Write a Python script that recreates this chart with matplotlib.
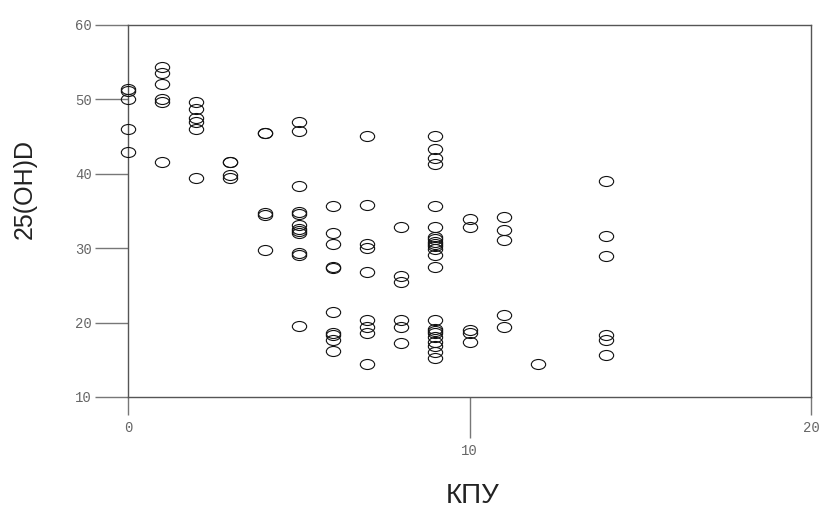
import matplotlib
matplotlib.use("Agg")
import matplotlib.pyplot as plt
from matplotlib.path import Path
from matplotlib.transforms import Affine2D
from matplotlib.ticker import FixedLocator

# КПУ index and 25(OH)D level, grouped by КПУ value
kpu_groups = [0, 1, 2, 3, 4, 5, 6, 7, 8, 9, 10, 11, 12, 14]
vitd_groups = [
    [51.4, 51.1, 50.0, 46.0, 42.9],
    [54.3, 53.6, 52.1, 50.1, 49.7, 41.6],
    [49.6, 48.7, 47.5, 46.9, 46.0, 39.4],
    [41.6, 41.6, 39.8, 39.5],
    [45.5, 45.5, 34.7, 34.5, 29.7],
    [46.9, 45.7, 38.3, 34.8, 34.6, 33.1, 32.6, 32.3, 32.0, 29.3, 29.1, 19.5],
    [35.7, 32.1, 30.6, 27.5, 27.3, 21.4, 18.6, 18.4, 17.7, 16.2],
    [45.1, 35.8, 30.6, 30.0, 26.8, 20.4, 19.4, 18.6, 14.4],
    [32.8, 26.2, 25.4, 20.4, 19.4, 17.3],
    [45.1, 43.4, 42.1, 41.3, 35.7, 32.9, 31.5, 31.2, 30.9, 30.6, 30.3, 29.9,
     29.1, 27.5, 20.3, 19.2, 18.9, 18.6, 18.1, 17.4, 16.8, 16.1, 15.3],
    [33.9, 32.9, 19.0, 18.6, 17.4],
    [34.2, 32.4, 31.1, 21.0, 19.4],
    [14.4],
    [39.0, 31.7, 29.0, 18.3, 17.7, 15.7],
]
y_ticks = [10, 20, 30, 40, 50, 60]
x_major = [0, 20]
x_minor = [10]

kpu = [k for k, vals in zip(kpu_groups, vitd_groups) for _ in vals]
vitd = [v for vals in vitd_groups for v in vals]

# flat ellipse marker
ellipse = Path.unit_circle().transformed(Affine2D().scale(1.0, 0.7))

fig = plt.figure(figsize=(8.25, 5.08), dpi=100)
fig.patch.set_facecolor("white")
ax = fig.add_axes([128 / 825, 1 - 397 / 508, 683 / 825, 372 / 508])

ax.plot(kpu, vitd, linestyle="none", marker=ellipse, markersize=10.3,
        markerfacecolor="none", markeredgecolor="#111111",
        markeredgewidth=0.8, clip_on=False, zorder=3)

ax.set_xlim(0, 20)
ax.set_ylim(10, 60)

for side in ["left", "right", "top", "bottom"]:
    ax.spines[side].set_color("#555555")
    ax.spines[side].set_linewidth(1.0)

tick_font = dict(family="Liberation Mono", size=10, color="#666666")

ax.yaxis.set_major_locator(FixedLocator(y_ticks))
ax.set_yticklabels([str(t) for t in y_ticks], **tick_font)
ax.tick_params(axis="y", which="major", direction="out", length=24,
               width=1.0, color="#777777", pad=2)

ax.xaxis.set_major_locator(FixedLocator(x_major))
ax.xaxis.set_minor_locator(FixedLocator(x_minor))
ax.set_xticklabels([str(t) for t in x_major], **tick_font)
ax.set_xticklabels([str(t) for t in x_minor], minor=True, **tick_font)
ax.tick_params(axis="x", which="major", direction="out", length=13,
               width=1.0, color="#777777", pad=4)
ax.tick_params(axis="x", which="minor", direction="out", length=29.5,
               width=1.0, color="#777777", pad=4)

fig.text(25 / 825, 1 - 189 / 508, "25(OH)D", rotation=90, ha="center",
         va="center", family="Liberation Sans", fontsize=18, color="#222222")
fig.text(473 / 825, 1 - 496 / 508, "КПУ", ha="center", va="center",
         family="Liberation Sans", fontsize=20, color="#222222")

fig.savefig("out.png", dpi=100, facecolor="white")
